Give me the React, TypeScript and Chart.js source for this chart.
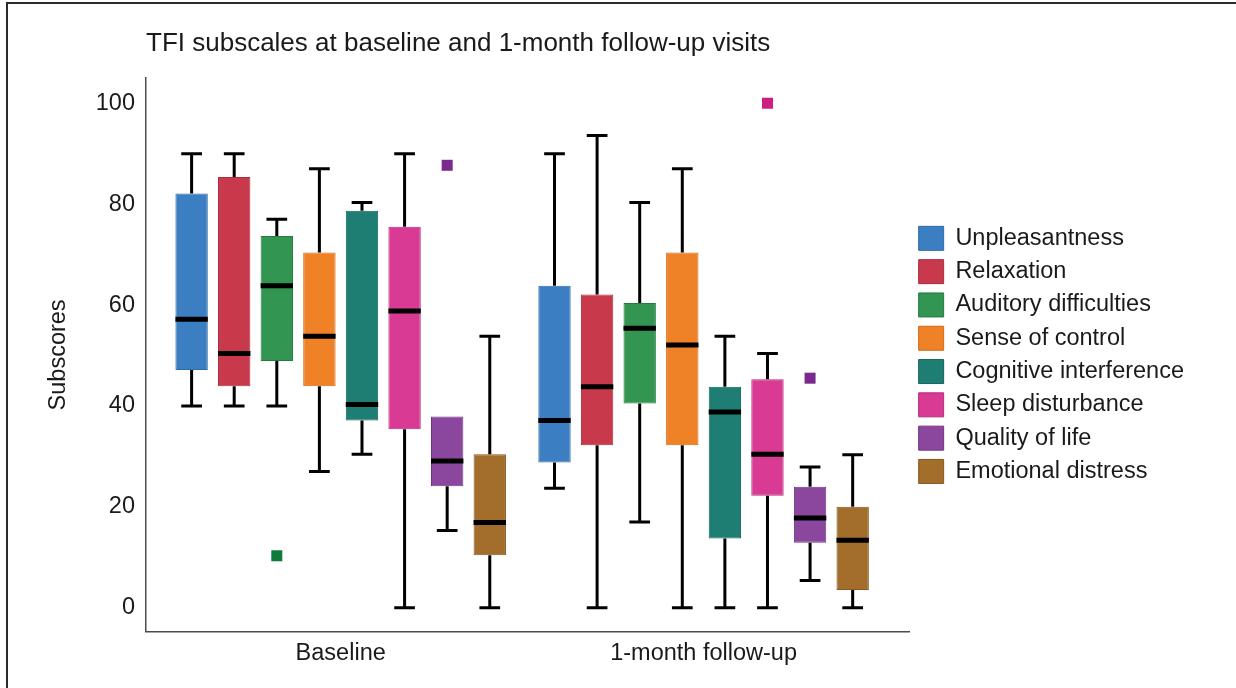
import React, { useEffect, useRef } from 'react';
import { Chart, registerables } from 'chart.js';

Chart.register(...registerables);

// ---- data ----
const visits = ['Baseline', '1-month follow-up'];
const subscales = [
  'Unpleasantness',
  'Relaxation',
  'Auditory difficulties',
  'Sense of control',
  'Cognitive interference',
  'Sleep disturbance',
  'Quality of life',
  'Emotional distress',
];
const fillColors = ['#3b7fc2', '#c9394c', '#329552', '#ef8126', '#1f7e73', '#d93a93', '#8b479e', '#a36e2c'];
const edgeColors = ['#2f6aa6', '#a82c3d', '#247a40', '#d06a14', '#15645b', '#b82a7a', '#6f3582', '#86581f'];

// [subscale][visit]
const lowWhisker = [[40, 23.7], [40, 0], [40, 17], [27, 0], [30.4, 0], [0, 0], [15.3, 5.4], [0, 0]];
const lowerQuartile = [[47.1, 28.8], [43.9, 32.2], [48.9, 40.5], [43.9, 32.2], [37.1, 13.7], [35.4, 22.2], [24.1, 12.9], [10.4, 3.5]];
const medians = [[57.2, 37.1], [50.4, 43.8], [63.8, 55.4], [53.8, 52.1], [40.3, 38.8], [58.8, 30.4], [29.1, 17.8], [16.9, 13.4]];
const upperQuartile = [[82.1, 63.8], [85.4, 62.1], [73.7, 60.4], [70.4, 70.4], [78.7, 43.8], [75.5, 45.3], [37.9, 24], [30.4, 20]];
const highWhisker = [[90, 90], [90, 93.6], [77, 80.3], [87, 87], [80.3, 53.8], [90, 50.4], [37.9, 27.9], [53.8, 30.3]];

const outlierSubscale = [2, 6, 5, 6];
const outlierVisit = [0, 0, 1, 1];
const outlierValue = [10.3, 87.7, 100, 45.5];
const outlierColors = ['#0e7a3c', '#7a2a8c', '#cc1f7f', '#7a2a8c'];

const yTicks = [0, 20, 40, 60, 80, 100];

const FONT = '"Liberation Sans", Arial, Helvetica, sans-serif';
const TEXT = '#1a1a1a';

export default function App() {
  const ref = useRef<HTMLCanvasElement>(null);

  useEffect(() => {
    const canvas = ref.current;
    if (!canvas) return;

    const datasets = subscales.map((name, i) => ({
      type: 'bar' as const,
      label: name,
      data: visits.map((_, v) => ({ x: v, y: [lowerQuartile[i][v], upperQuartile[i][v]] })),
      backgroundColor: fillColors[i],
      borderColor: edgeColors[i],
      borderWidth: 1,
      borderSkipped: false,
      categoryPercentage: 0.939,
      barPercentage: 0.76,
    }));

    const boxPlugin = {
      id: 'boxDetails',
      afterDatasetsDraw(chart: any) {
        const ctx = chart.ctx;
        const ys = chart.scales.y;
        ctx.save();
        ctx.strokeStyle = '#000';
        ctx.lineCap = 'butt';
        subscales.forEach((_, i) => {
          const meta = chart.getDatasetMeta(i);
          meta.data.forEach((bar: any, v: number) => {
            const cx = bar.x;
            const w = bar.width;
            const cap = w * 0.32;
            const pLow = ys.getPixelForValue(lowWhisker[i][v]);
            const pQ1 = ys.getPixelForValue(lowerQuartile[i][v]);
            const pMed = ys.getPixelForValue(medians[i][v]);
            const pQ3 = ys.getPixelForValue(upperQuartile[i][v]);
            const pHigh = ys.getPixelForValue(highWhisker[i][v]);
            ctx.lineWidth = 3;
            if (highWhisker[i][v] > upperQuartile[i][v]) {
              ctx.beginPath();
              ctx.moveTo(cx, pQ3);
              ctx.lineTo(cx, pHigh);
              ctx.moveTo(cx - cap, pHigh);
              ctx.lineTo(cx + cap, pHigh);
              ctx.stroke();
            }
            if (lowWhisker[i][v] < lowerQuartile[i][v]) {
              ctx.beginPath();
              ctx.moveTo(cx, pQ1);
              ctx.lineTo(cx, pLow);
              ctx.moveTo(cx - cap, pLow);
              ctx.lineTo(cx + cap, pLow);
              ctx.stroke();
            }
            ctx.lineWidth = 5;
            ctx.beginPath();
            ctx.moveTo(cx - w / 2, pMed);
            ctx.lineTo(cx + w / 2, pMed);
            ctx.stroke();
          });
        });
        outlierValue.forEach((val, k) => {
          const bar: any = chart.getDatasetMeta(outlierSubscale[k]).data[outlierVisit[k]];
          if (!bar) return;
          const py = ys.getPixelForValue(val);
          ctx.fillStyle = outlierColors[k];
          ctx.fillRect(bar.x - 5.5, py - 5.5, 11, 11);
        });
        ctx.restore();
      },
    };

    const chart = new Chart(canvas, {
      type: 'bar',
      data: { datasets } as any,
      options: {
        responsive: false,
        animation: false,
        layout: { padding: { left: 40, right: 42, top: 0, bottom: 12 } },
        scales: {
          x: {
            type: 'linear',
            min: -0.5365,
            max: 1.567,
            offset: false,
            grid: { display: false, drawTicks: false },
            border: { display: true, color: '#4d4d4d', width: 1.5 },
            afterBuildTicks: (s: any) => {
              s.ticks = visits.map((_, i) => ({ value: i }));
            },
            ticks: {
              callback: (v: any) => visits[v] ?? '',
              font: { family: FONT, size: 23.5 },
              color: TEXT,
              padding: 8,
              autoSkip: false,
              maxRotation: 0,
            },
          },
          y: {
            type: 'linear',
            min: -4.77,
            max: 105,
            grid: { display: false, drawTicks: false },
            border: { display: true, color: '#4d4d4d', width: 1.5 },
            afterBuildTicks: (s: any) => {
              s.ticks = yTicks.map((v) => ({ value: v }));
            },
            afterFit: (s: any) => {
              s.width = 106;
            },
            ticks: {
              font: { family: FONT, size: 23.5 },
              color: TEXT,
              padding: 11,
            },
            title: {
              display: true,
              text: 'Subscores',
              font: { family: FONT, size: 23.5 },
              color: TEXT,
              padding: { top: 4, bottom: 4 },
            },
          },
        } as any,
        plugins: {
          legend: {
            position: 'right',
            fullSize: false,
            labels: {
              boxWidth: 25,
              boxHeight: 24,
              padding: 9.3,
              font: { family: FONT, size: 23.5 },
              color: TEXT,
            },
          },
          title: {
            display: true,
            text: 'TFI subscales at baseline and 1-month follow-up visits',
            align: 'start',
            fullSize: false,
            font: { family: FONT, size: 26, weight: 'normal' },
            color: TEXT,
            padding: { top: 28, bottom: 18.8 },
          },
          tooltip: { enabled: false },
        },
      } as any,
      plugins: [boxPlugin],
    });

    return () => chart.destroy();
  }, []);

  return (
    <div
      style={{
        position: 'fixed',
        left: 0,
        top: 0,
        width: 1236,
        height: 688,
        background: '#fff',
        overflow: 'hidden',
      }}
    >
      <div
        style={{
          position: 'absolute',
          left: 6,
          top: 2,
          width: 1300,
          height: 800,
          border: '2px solid #2b2b2b',
          boxSizing: 'border-box',
        }}
      />
      <canvas
        ref={ref}
        width={1236}
        height={688}
        style={{ position: 'absolute', left: 0, top: 0, width: 1236, height: 688 }}
      />
    </div>
  );
}
